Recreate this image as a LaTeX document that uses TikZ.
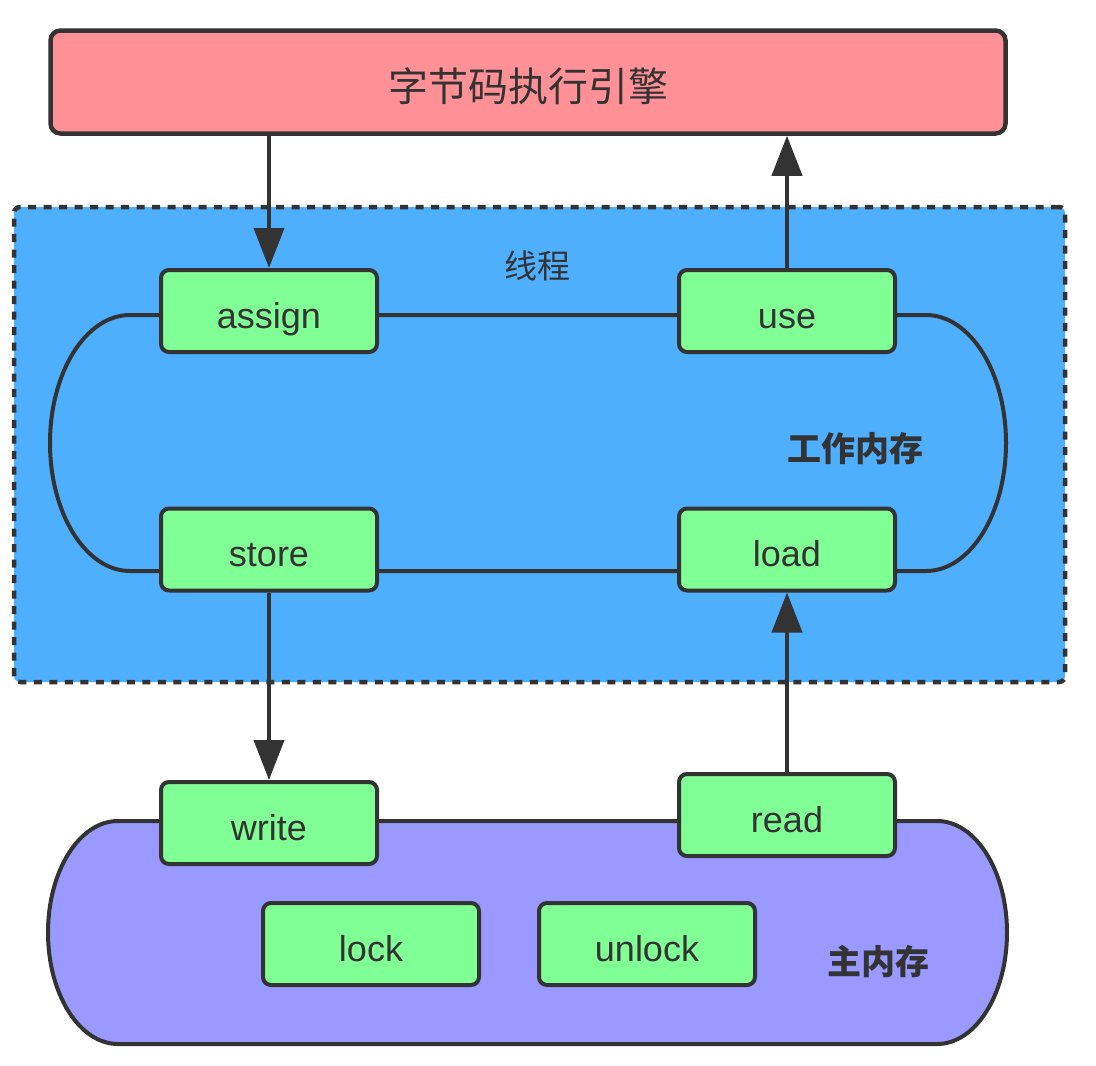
\documentclass[tikz,border=0pt]{standalone}
\usepackage{fontspec}
\setmainfont{Liberation Sans}
\newfontfamily\cjk{Noto Sans CJK SC}
\usetikzlibrary{arrows.meta}
\definecolor{ink}{HTML}{333333}
\definecolor{engred}{HTML}{FF9196}
\definecolor{thrblue}{HTML}{4FAFFF}
\definecolor{opgreen}{HTML}{80FF94}
\definecolor{mainpurple}{HTML}{9999FF}
\begin{document}
\begin{tikzpicture}[x=1pt,y=1pt,
  opbox/.style={draw=ink, fill=opgreen, line width=4pt, rounded corners=8pt,
    minimum width=216pt, minimum height=82pt, inner sep=0pt,
    text height=34pt, text depth=0pt, font=\fontsize{36}{40}\selectfont, text=ink},
  enginebox/.style={draw=ink, fill=engred, line width=4.5pt, rounded corners=10pt,
    minimum width=955pt, minimum height=103pt, inner sep=0pt, text=ink,
    text height=40pt, text depth=2pt,
    font=\cjk\fontsize{40}{44}\selectfont},
  threadbox/.style={draw=ink, fill=thrblue, line width=4.5pt, rounded corners=6pt,
    dash pattern=on 8pt off 7.5pt, minimum width=1051pt, minimum height=475pt, inner sep=0pt},
  memline/.style={draw=ink, line width=4pt},
  flow/.style={draw=ink, line width=4pt, -{Triangle[width=30pt,length=40pt]}},
  cjklabel/.style={text=ink, inner sep=0pt, font=\cjk\fontsize{33}{36}\selectfont},
  cjkbold/.style={text=ink, inner sep=0pt, font=\cjk\bfseries\fontsize{34}{38}\selectfont}
]
\useasboundingbox (0,0) rectangle (1096,-1066);

% thread container
\node[threadbox] (thread) at (539.5,-444.5) {};
\node[cjklabel] (threadlabel) at (537,-266) {线程};

% working memory loop
\draw[memline] (130,-315) -- (926,-315)
  arc[start angle=90, end angle=-90, x radius=80pt, y radius=128pt]
  -- (130,-571)
  arc[start angle=270, end angle=90, x radius=80pt, y radius=128pt] -- cycle;
\node[cjkbold] (wmlabel) at (855,-449) {工作内存};

% main memory
\draw[memline, fill=mainpurple] (118,-821) -- (937,-821)
  arc[start angle=90, end angle=-90, x radius=70pt, y radius=111.5pt]
  -- (118,-1044)
  arc[start angle=270, end angle=90, x radius=70pt, y radius=111.5pt] -- cycle;
\node[cjkbold] (mmlabel) at (878,-962) {主内存};

% engine
\node[enginebox] (engine) at (528,-82) {字节码执行引擎};

% operations
\node[opbox] (assign) at (269,-311) {assign};
\node[opbox] (use)    at (787,-311) {use};
\node[opbox] (store)  at (269,-549.5) {store};
\node[opbox] (load)   at (787,-549.5) {load};
\node[opbox] (write)  at (269,-823) {write};
\node[opbox] (read)   at (787,-815) {read};
\node[opbox] (lock)   at (371,-944) {lock};
\node[opbox] (unlock) at (647,-944) {unlock};

% flows
\draw[flow] (engine.south -| assign.north) -- (assign.north);
\draw[flow] (use.north) -- (engine.south -| use.north);
\draw[flow] (store.south) -- (write.north);
\draw[flow] (read.north) -- (load.south);
\end{tikzpicture}
\end{document}
